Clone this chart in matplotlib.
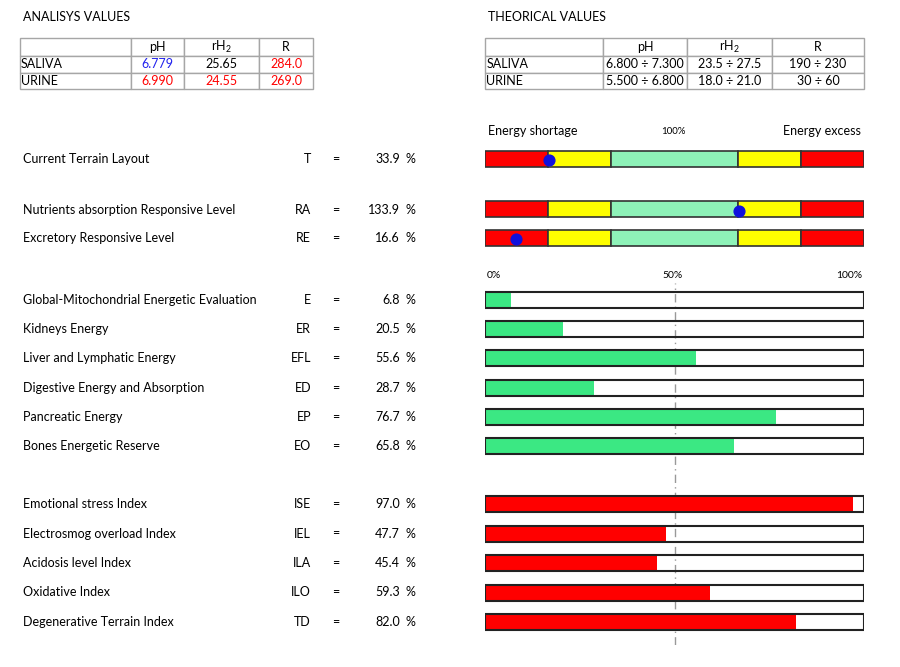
import matplotlib.pyplot as plt
import numpy as np

plt.rcParams['font.family'] = ['Lato', 'DejaVu Sans']
plt.rcParams['mathtext.default'] = 'regular'

# tables
tbl_cols = ["", "pH", r"rH$_2$", "R"]
tbl_rows = ["SALIVA", "URINE"]
analysis_vals = [["6.779", "25.65", "284.0"],
                 ["6.990", "24.55", "269.0"]]
analysis_colors = [["#2222ee", "black", "red"],
                   ["red", "red", "red"]]
theory_vals = [["6.800 \u00f7 7.300", "23.5 \u00f7 27.5", "190 \u00f7 230"],
               ["5.500 \u00f7 6.800", "18.0 \u00f7 21.0", "30 \u00f7 60"]]

# terrain gauges (0..200 %, 100 % in the middle)
gauge_names = ["Current Terrain Layout", "Nutrients absorption Responsive Level",
               "Excretory Responsive Level"]
gauge_codes = ["T", "RA", "RE"]
gauge_vals = [33.9, 133.9, 16.6]
zone_edges = [0, 33.3, 66.7, 133.3, 166.7, 200]
zone_colors = ["red", "yellow", "#8ef2b8", "yellow", "red"]

# energy bars
energy_names = ["Global-Mitochondrial Energetic Evaluation", "Kidneys Energy",
                "Liver and Lymphatic Energy", "Digestive Energy and Absorption",
                "Pancreatic Energy", "Bones Energetic Reserve"]
energy_codes = ["E", "ER", "EFL", "ED", "EP", "EO"]
energy_vals = [6.8, 20.5, 55.6, 28.7, 76.7, 65.8]

# index bars
index_names = ["Emotional stress Index", "Electrosmog overload Index",
               "Acidosis level Index", "Oxidative Index", "Degenerative Terrain Index"]
index_codes = ["ISE", "IEL", "ILA", "ILO", "TD"]
index_vals = [97.0, 47.7, 45.4, 59.3, 82.0]

W, H = 900, 667
FS = 9
fig = plt.figure(figsize=(9, 6.67), dpi=100)


def fx(px):
    return px / W


def fy(py):
    return 1 - py / H


def add_px_axes(x0, y0, x1, y1):
    return fig.add_axes([fx(x0), fy(y1), fx(x1 - x0), (y1 - y0) / H])


def draw_table(x0, x1, col_px, vals, colors):
    ax = add_px_axes(x0, 38, x1, 89)
    ax.axis("off")
    cells = [tbl_cols] + [[r] + v for r, v in zip(tbl_rows, vals)]
    widths = np.diff([x0] + col_px + [x1]) / (x1 - x0)
    t = ax.table(cellText=cells, colWidths=list(widths), bbox=[0, 0, 1, 1],
                 cellLoc="center")
    t.auto_set_font_size(False)
    t.set_fontsize(FS)
    for (r, c), cell in t.get_celld().items():
        cell.set_edgecolor("#a6a6a6")
        cell.set_linewidth(1.0)
        cell.set_height(18 if r == 0 else 16.5)
        if c == 0:
            cell.get_text().set_ha("left")
            cell.PAD = 0.01
        if r > 0 and c > 0 and colors is not None:
            cell.get_text().set_color(colors[r - 1][c - 1])
    return t


fig.text(fx(23), fy(17), "ANALISYS VALUES", fontsize=FS, va="center")
fig.text(fx(488), fy(17), "THEORICAL VALUES", fontsize=FS, va="center")
draw_table(20, 313, [131, 184, 259], analysis_vals, analysis_colors)
draw_table(485, 864, [603, 687, 772], theory_vals, None)


def row_text(py, name, code, val):
    fig.text(fx(23), fy(py), name, fontsize=FS, va="center")
    fig.text(fx(311), fy(py), code, fontsize=FS, va="center", ha="right")
    fig.text(fx(336), fy(py), "=", fontsize=FS, va="center", ha="center")
    fig.text(fx(400), fy(py), f"{val:.1f}", fontsize=FS, va="center", ha="right")
    fig.text(fx(405), fy(py), "%", fontsize=FS, va="center", ha="left")


# gauge panel
gauge_y = [158.5, 209, 237.5]
gx = add_px_axes(485, 140, 864, 250)
gx.set_xlim(0, 200)
gx.set_ylim(250, 140)
gx.axis("off")
lefts = zone_edges[:-1]
widths = np.diff(zone_edges)
for y in gauge_y:
    gx.barh([y] * len(lefts), widths, left=lefts, height=16, color=zone_colors,
            edgecolor="#333333", linewidth=1.2)
gx.scatter(gauge_vals, [y + 1.5 for y in gauge_y], s=60, color="#1010dd", zorder=5)
for y, n, c, v in zip(gauge_y, gauge_names, gauge_codes, gauge_vals):
    row_text(y + 1, n, c, v)

fig.text(fx(488), fy(131), "Energy shortage", fontsize=FS, va="center")
fig.text(fx(673), fy(131), "100%", fontsize=7, va="center", ha="center")
fig.text(fx(861), fy(131), "Energy excess", fontsize=FS, va="center", ha="right")

# percentage bars
energy_y = [300 + 29.2 * i for i in range(len(energy_vals))]
index_y = [504 + 29.5 * i for i in range(len(index_vals))]
bx = add_px_axes(485, 283, 864, 645)
bx.set_xlim(0, 100)
bx.set_ylim(645, 283)
bx.axis("off")
bx.barh(energy_y, energy_vals, height=14, color="#3be883", zorder=2)
bx.barh(index_y, index_vals, height=14, color="red", zorder=2)
bx.barh(energy_y + index_y, [100] * (len(energy_y) + len(index_y)), height=16,
        fill=False, edgecolor="#222222", linewidth=1.5, zorder=3)
bx.axvline(50, color="#999999", linestyle=(0, (6, 3, 1, 3)), linewidth=1, zorder=1)

fig.text(fx(487), fy(276), "0%", fontsize=7.5, va="center")
fig.text(fx(673), fy(276), "50%", fontsize=7.5, va="center", ha="center")
fig.text(fx(862), fy(276), "100%", fontsize=7.5, va="center", ha="right")

for y, n, c, v in zip(energy_y, energy_names, energy_codes, energy_vals):
    row_text(y, n, c, v)
for y, n, c, v in zip(index_y, index_names, index_codes, index_vals):
    row_text(y, n, c, v)

fig.savefig("out.png", dpi=100)
